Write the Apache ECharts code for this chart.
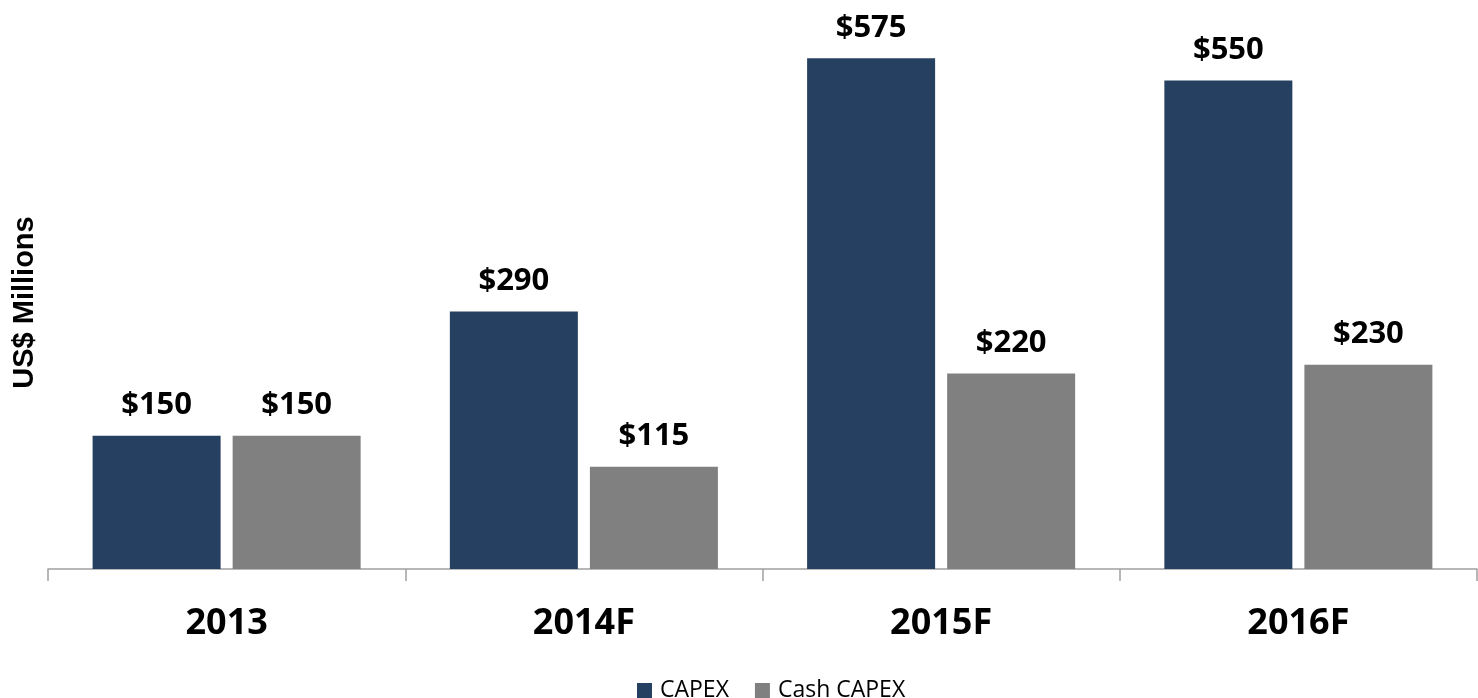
<!DOCTYPE html>
<html>
<head>
<meta charset="utf-8">
<script src="https://cdn.jsdelivr.net/npm/echarts@6/dist/echarts.min.js"></script>
<style>
  html, body { margin: 0; padding: 0; background: #ffffff; }
  #chart { width: 1478px; height: 698px; }
</style>
</head>
<body>
<div id="chart"></div>
<script>
// Capital expenditure, US$ millions
const years = ['2013', '2014F', '2015F', '2016F'];
const capex = [150, 290, 575, 550];
const cashCapex = [150, 115, 220, 230];

const chart = echarts.init(document.getElementById('chart'), null, { renderer: 'canvas' });

const valueLabel = {
  show: true,
  position: 'top',
  distance: 15,
  formatter: p => '$' + p.value,
  fontFamily: 'Open Sans',
  fontWeight: 'bold',
  fontSize: 31,
  color: '#000000'
};

chart.setOption({
  animation: false,
  backgroundColor: '#ffffff',
  grid: { left: 48, right: 1, top: 36, bottom: 129, containLabel: false, outerBoundsMode: 'none' },
  legend: {
    bottom: -9,
    left: 632,
    itemWidth: 15,
    itemHeight: 15,
    itemGap: 26,
    icon: 'rect',
    textStyle: { fontFamily: 'Open Sans', fontSize: 23, color: '#000000', padding: [0, 0, 0, 3] },
    data: ['CAPEX', 'Cash CAPEX']
  },
  xAxis: {
    type: 'category',
    data: years,
    axisLine: { show: true, lineStyle: { color: '#a0a0a0', width: 1.5 } },
    axisTick: { show: true, length: 12, lineStyle: { color: '#a0a0a0', width: 1.5 } },
    axisLabel: {
      margin: 37,
      fontFamily: 'Open Sans',
      fontWeight: 'bold',
      fontSize: 36,
      color: '#000000'
    }
  },
  yAxis: {
    type: 'value',
    min: 0,
    max: 600,
    name: 'US$ Millions',
    nameLocation: 'middle',
    nameGap: 9,
    nameRotate: 90,
    nameTextStyle: {
      fontFamily: 'Liberation Sans',
      fontWeight: 'bold',
      fontSize: 29,
      color: '#000000'
    },
    axisLine: { show: false },
    axisTick: { show: false },
    axisLabel: { show: false },
    splitLine: { show: false }
  },
  series: [
    {
      name: 'CAPEX',
      type: 'bar',
      data: capex,
      barWidth: 128,
      barGap: '9.4%',
      itemStyle: { color: '#264061' },
      label: valueLabel
    },
    {
      name: 'Cash CAPEX',
      type: 'bar',
      data: cashCapex,
      barWidth: 128,
      itemStyle: { color: '#808080' },
      label: valueLabel
    }
  ]
});
</script>
</body>
</html>
